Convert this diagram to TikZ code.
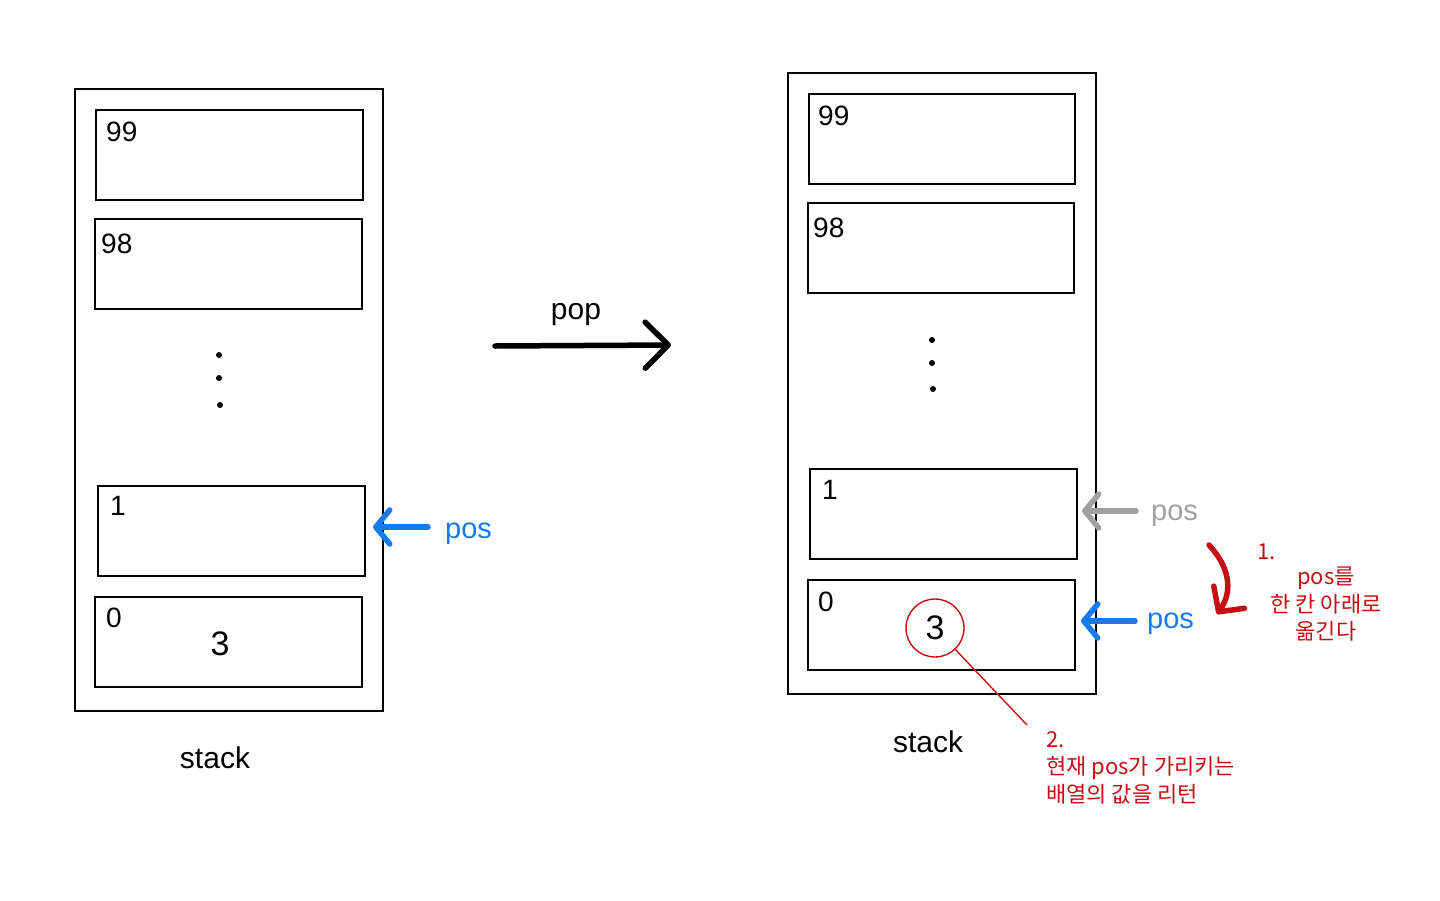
\documentclass[tikz,border=0pt]{standalone}
\usepackage{fontspec}
\setmainfont{Liberation Sans}
\newfontfamily\kr{Noto Sans CJK KR}
\usetikzlibrary{arrows.meta}
\definecolor{posblue}{RGB}{22,122,240}
\definecolor{posgray}{RGB}{160,160,160}
\definecolor{redmark}{RGB}{196,16,20}
\tikzset{
  cell/.style={draw, line width=1.6pt},
  frame/.style={draw, line width=1.6pt},
  idx/.style={anchor=west, font=\fontsize{28}{30}\selectfont, inner sep=0pt},
  lbl/.style={font=\fontsize{30}{32}\selectfont, inner sep=0pt},
  poslbl/.style={font=\fontsize{29}{31}\selectfont, inner sep=0pt, anchor=west},
  dot/.style={circle, fill, inner sep=0pt, minimum size=6pt},
  ptr/.style={line width=5.5pt, line cap=round, -{Straight Barb[length=14pt, width=34pt, line width=5.5pt, round]}},
  redtxt/.style={text=redmark, font=\kr\fontsize{22}{27.5}\selectfont, inner sep=0pt}
}
\begin{document}
\begin{tikzpicture}[x=1pt,y=-1pt]
\useasboundingbox (0,0) rectangle (1440,900);
% left stack
\draw[frame] (75,89) rectangle (383,711);
\draw[cell] (96,110) rectangle (363,200);
\draw[cell] (95,219) rectangle (362,309);
\draw[cell] (98,486) rectangle (365,576);
\draw[cell] (95,597) rectangle (362,687);
\node[idx] (l99) at (106,132) {99};
\node[idx] (l98) at (101,244) {98};
\node[idx] (l1) at (110,506) {1};
\node[idx] (l0) at (106,618) {0};
\node[dot] (ld1) at (219,355) {};
\node[dot] (ld2) at (219,378) {};
\node[dot] (ld3) at (220,405) {};
\node[lbl, font=\fontsize{34}{36}\selectfont] (l3) at (220,644) {3};
\node[lbl] (lstack) at (215,758) {stack};
\coordinate (lcell1) at (373,527);
\node[poslbl, text=posblue] (lpos) at (445,534) {pos};
\draw[ptr, posblue] (428,527) -- (lcell1);
% pop arrow
\node[lbl] (pop) at (576,315) {pop};
\coordinate (popA) at (495,346);
\coordinate (popB) at (671,345);
\draw[line width=5.5pt, line cap=round, -{Straight Barb[length=23pt, width=46pt, line width=5.5pt, round]}] (popA) -- (popB);
% right stack
\draw[frame] (788,73) rectangle (1096,694);
\draw[cell] (809,94) rectangle (1075,184);
\draw[cell] (808,203) rectangle (1074,293);
\draw[cell] (810,469) rectangle (1077,559);
\draw[cell] (808,580) rectangle (1075,670);
\node[idx] (r99) at (818,116) {99};
\node[idx] (r98) at (813,228) {98};
\node[idx] (r1) at (822,490) {1};
\node[idx] (r0) at (818,602) {0};
\node[dot] (rd1) at (932,340) {};
\node[dot] (rd2) at (932,363) {};
\node[dot] (rd3) at (933,389) {};
\node[draw=redmark, line width=1.4pt, circle, minimum size=58pt, inner sep=0pt] (circ) at (935,628) {};
\node[lbl, font=\fontsize{34}{36}\selectfont] (r3) at (935,628) {3};
\node[lbl] (rstack) at (928,742) {stack};
\coordinate (rcell1) at (1082,511);
\coordinate (rcell0) at (1081,621);
\node[poslbl, text=posgray] (oldpos) at (1151,516) {pos};
\node[poslbl, text=posblue] (newpos) at (1147,624) {pos};
\draw[ptr, posgray] (1136,511) -- (rcell1);
\draw[ptr, posblue] (1135,621) -- (rcell0);
% red annotations
\coordinate (cs) at (1209,545);
\coordinate (ce) at (1217,614);
\draw[redmark, line width=5.5pt, line cap=round, -{Straight Barb[length=18pt, width=38pt, line width=5.5pt, round]}] (cs) .. controls (1234,572) and (1230,596) .. (ce);
\node[redtxt, anchor=west] (n1) at (1257,552) {1.};
\node[redtxt, align=center, anchor=north] (t1) at (1326,567) {pos를\\한 칸 아래로\\옮긴다};
\coordinate (lineEnd) at (1027,725);
\draw[redmark, line width=1.4pt] (circ) -- (lineEnd);
\node[redtxt, align=left, anchor=north west] (t2) at (1046,731) {2.\\현재 pos가 가리키는\\배열의 값을 리턴};
\end{tikzpicture}
\end{document}
